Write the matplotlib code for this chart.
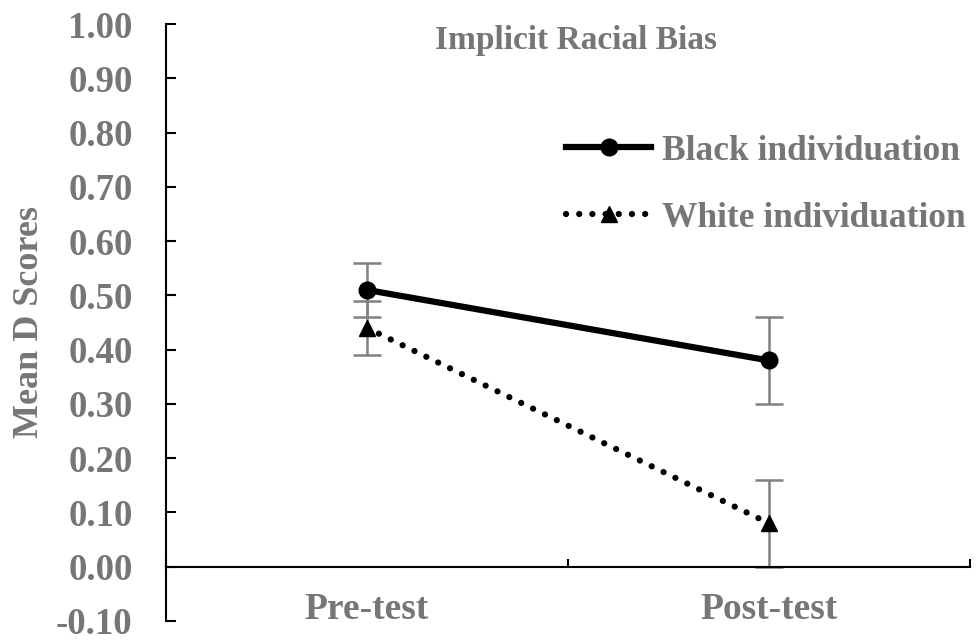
import matplotlib
matplotlib.use('Agg')
import matplotlib.pyplot as plt

# data
phases = ['Pre-test', 'Post-test']
black_means = [0.51, 0.38]
black_err = [0.05, 0.08]
white_means = [0.44, 0.08]
white_err = [0.05, 0.08]
yticks = [-0.10, 0.00, 0.10, 0.20, 0.30, 0.40, 0.50, 0.60, 0.70, 0.80, 0.90, 1.00]

plt.rcParams['font.family'] = ['Liberation Serif', 'DejaVu Serif']
plt.rcParams['font.weight'] = 'bold'
grey = '#767676'

fig = plt.figure(figsize=(9.78, 6.41), dpi=100)
ax = fig.add_axes([166/978, 1-621/641, (970-166)/978, (621-24)/641])

x = [0.5, 1.5]
ax.errorbar(x, black_means, yerr=black_err, fmt='none', ecolor='#808080',
            elinewidth=1.8, capsize=10, capthick=1.8, zorder=2)
ax.errorbar(x, white_means, yerr=white_err, fmt='none', ecolor='#808080',
            elinewidth=1.8, capsize=10, capthick=1.8, zorder=2)
ax.plot(x, black_means, '-', color='black', lw=4.5, marker='o', ms=12,
        label='Black individuation', zorder=3)
ax.plot(x, white_means, color='black', lw=4.5, linestyle=(0, (0.01, 2.1)),
        dash_capstyle='round', marker='^', ms=12,
        label='White individuation', zorder=3)

ax.set_xlim(0, 2)
ax.set_ylim(-0.10, 1.00)
ax.set_yticks(yticks)
ax.set_yticklabels(['%.2f' % v for v in yticks], color=grey, fontsize=26.5)
ax.tick_params(axis='y', direction='in', length=7.5, width=1.5, pad=24)

ax.spines['top'].set_visible(False)
ax.spines['right'].set_visible(False)
ax.spines['left'].set_linewidth(1.5)
ax.spines['bottom'].set_position(('data', 0))
ax.spines['bottom'].set_linewidth(1.5)

ax.set_xticks(x)
ax.set_xticklabels(phases, color=grey, fontsize=27)
ax.tick_params(axis='x', which='major', length=0, pad=18)
ax.set_xticks([0, 1, 2], minor=True)
ax.tick_params(axis='x', which='minor', direction='in', length=6, width=1.5)

ax.set_ylabel('Mean D Scores', color=grey, fontsize=26, fontweight='bold', labelpad=7)
ax.set_title('Implicit Racial Bias', color=grey, fontsize=24, fontweight='bold',
             y=0.945, x=0.51)

leg = ax.legend(loc='upper left', bbox_to_anchor=(0.48, 0.838), frameon=False,
                fontsize=25.5, handlelength=2.4, handletextpad=0.3,
                labelspacing=0.95, borderaxespad=0)
for t in leg.get_texts():
    t.set_color(grey)

fig.savefig('out.png', dpi=100)
